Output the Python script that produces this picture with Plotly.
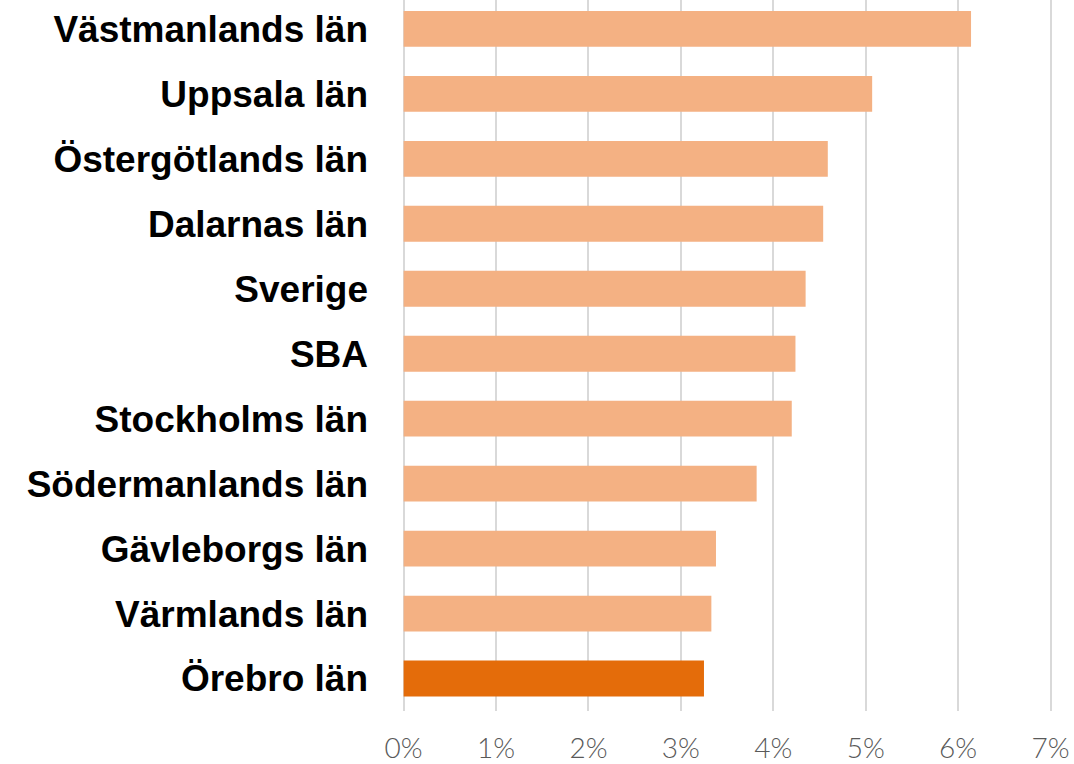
import plotly.graph_objects as go

categories = ["Västmanlands län", "Uppsala län", "Östergötlands län", "Dalarnas län",
              "Sverige", "SBA", "Stockholms län", "Södermanlands län",
              "Gävleborgs län", "Värmlands län", "Örebro län"]
values = [6.14, 5.07, 4.59, 4.54, 4.35, 4.24, 4.20, 3.82, 3.38, 3.33, 3.25]
highlight = "Örebro län"
tick_vals = [0, 1, 2, 3, 4, 5, 6, 7]
tick_text = ["0%", "1%", "2%", "3%", "4%", "5%", "6%", "7%"]

colors = ["#E46C0A" if c == highlight else "#F4B183" for c in categories]

fig = go.Figure(go.Bar(
    x=values, y=categories, orientation="h",
    marker=dict(color=colors, line=dict(width=0)),
    hoverinfo="skip",
))

fig.update_layout(
    width=1074, height=764,
    margin=dict(l=399, r=5, t=0, b=50, pad=0),
    paper_bgcolor="white", plot_bgcolor="white",
    bargap=0.448,
    showlegend=False,
)
fig.update_xaxes(
    range=[-0.05, 7.2], tickvals=tick_vals, ticktext=tick_text,
    showgrid=True, gridcolor="#D9D9D9", gridwidth=2,
    zeroline=False, showline=False, ticks="",
    tickfont=dict(family="Lato", size=28, color="#595959", weight=300),
    ticklabelstandoff=18,
)
fig.update_yaxes(
    type="category", categoryorder="array", categoryarray=categories,
    range=[10.5, -0.445],
    showgrid=False, zeroline=False, showline=False, ticks="",
    tickfont=dict(family="Liberation Sans", size=37, color="#000000", weight="bold"),
    ticklabelstandoff=30,
)

fig.write_html(
    "out.html",
    config={"displayModeBar": False},
    post_script="document.body.style.margin='0px';document.body.style.overflow='hidden';",
)
